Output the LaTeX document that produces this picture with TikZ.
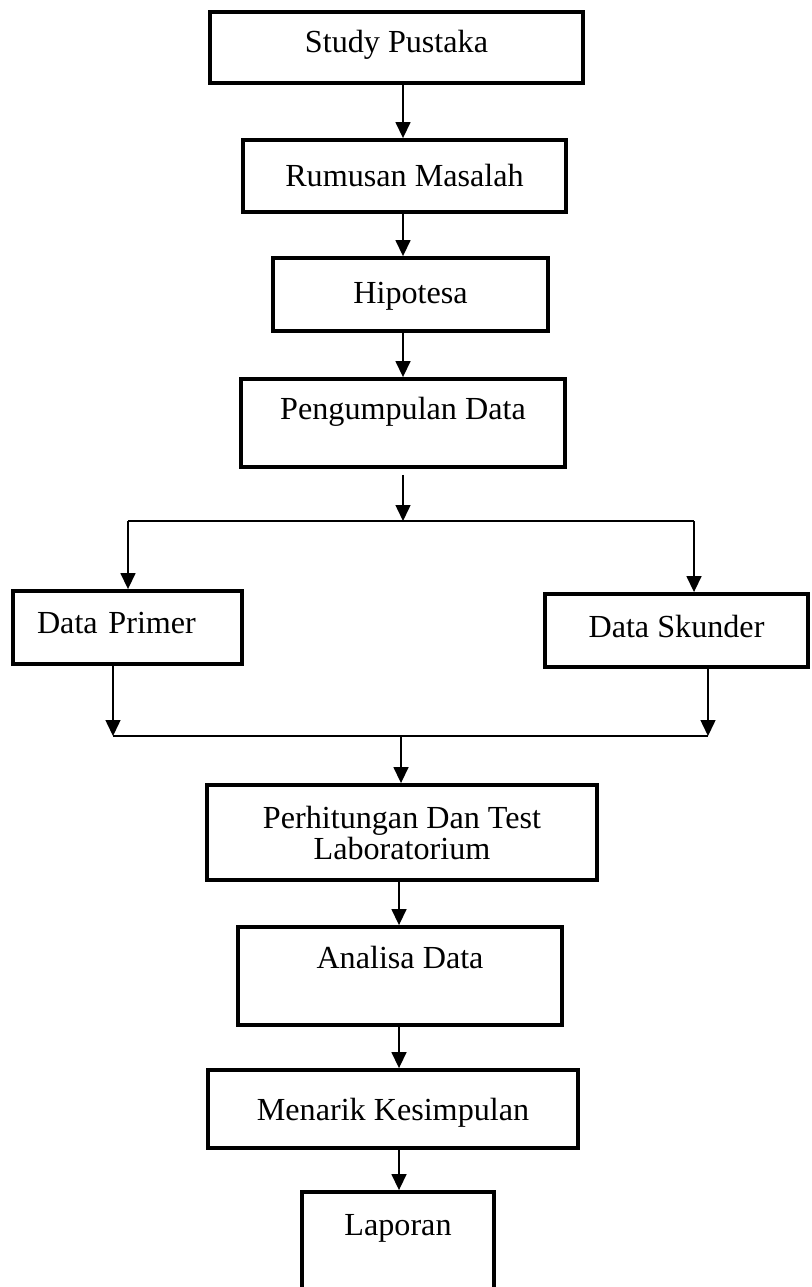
\documentclass[tikz,border=0pt]{standalone}
\usepackage{fontspec}
\setmainfont{Liberation Serif}
\usepackage{tikz}
\usetikzlibrary{arrows.meta}
\usetikzlibrary{positioning}

\begin{document}
\begin{tikzpicture}[x=0.02cm,y=-0.02cm,font=\fontsize{18.3pt}{15.6pt}\selectfont,
	kotak/.style={draw,line width=2.2pt,inner sep=0pt,anchor=base},
	panah/.style={-{Triangle[width=0.3cm,length=0.32cm]},line width=0.85pt}]

			\useasboundingbox (0, 0) rectangle (811, 1287);

			\node[kotak,minimum width=7.46cm,text height=0.82cm,text depth=0.60cm] (study) at (396.5, 53) {Study Pustaka};
			\node[kotak,minimum width=6.46cm,text height=0.94cm,text depth=0.50cm] (rumusan) at (404.5, 187) {Rumusan Masalah};
			\node[kotak,minimum width=5.50cm,text height=0.92cm,text depth=0.54cm] (hipotesa) at (410.5, 304) {Hipotesa};
			\node[kotak,minimum width=6.48cm,text height=0.80cm,text depth=0.96cm] (kumpul) at (403, 419) {Pengumpulan Data};
			\node[kotak,text width=3.62cm,inner xsep=0.48cm,align=left,text height=0.84cm,text depth=0.62cm] (primer) at (127.5, 633) {Data Primer};
			\node[kotak,minimum width=5.26cm,text height=0.86cm,text depth=0.60cm] (skunder) at (676.5, 637) {Data Skunder};
			\node[kotak,anchor=center,minimum width=7.80cm,minimum height=1.90cm,align=center] (hitung) at (402, 832.5) {Perhitungan Dan Test\\Laboratorium};
			\node[kotak,minimum width=6.48cm,text height=0.82cm,text depth=1.14cm] (analisa) at (400, 968) {Analisa Data};
			\node[kotak,minimum width=7.40cm,text height=1.00cm,text depth=0.56cm] (simpul) at (393, 1120) {Menarik Kesimpulan};
			\node[kotak,minimum width=3.84cm,text height=0.86cm,text depth=1.10cm] (laporan) at (398, 1235) {Laporan};

			\coordinate (atas) at (403, 0);
			\coordinate (bawah) at (399, 0);
			\coordinate (pisah) at (403, 521);
			\coordinate (pisahkiri) at (128, 521);
			\coordinate (pisahkanan) at (694, 521);
			\coordinate (gabung) at (401, 736);
			\coordinate (gabungkiri) at (113, 736);
			\coordinate (gabungkanan) at (708, 736);

			\draw[panah] (study.south -| atas) -- (rumusan.north -| atas);
			\draw[panah] (rumusan.south -| atas) -- (hipotesa.north -| atas);
			\draw[panah] (hipotesa.south -| atas) -- (kumpul.north -| atas);
			\draw[panah] ([yshift=-0.12cm]kumpul.south -| atas) -- (pisah);
			\draw[line width=0.85pt] (pisahkiri) -- (pisahkanan);
			\draw[panah] (pisahkiri) -- (pisahkiri |- primer.north);
			\draw[panah] (pisahkanan) -- (pisahkanan |- skunder.north);
			\draw[panah] (primer.south -| gabungkiri) -- (gabungkiri);
			\draw[panah] (skunder.south -| gabungkanan) -- (gabungkanan);
			\draw[line width=0.85pt] (gabungkiri) -- (gabungkanan);
			\draw[panah] (gabung) -- (hitung.north -| gabung);
			\draw[panah] (hitung.south -| bawah) -- (analisa.north -| bawah);
			\draw[panah] (analisa.south -| bawah) -- (simpul.north -| bawah);
			\draw[panah] (simpul.south -| bawah) -- (laporan.north -| bawah);

		\end{tikzpicture}
\end{document}
